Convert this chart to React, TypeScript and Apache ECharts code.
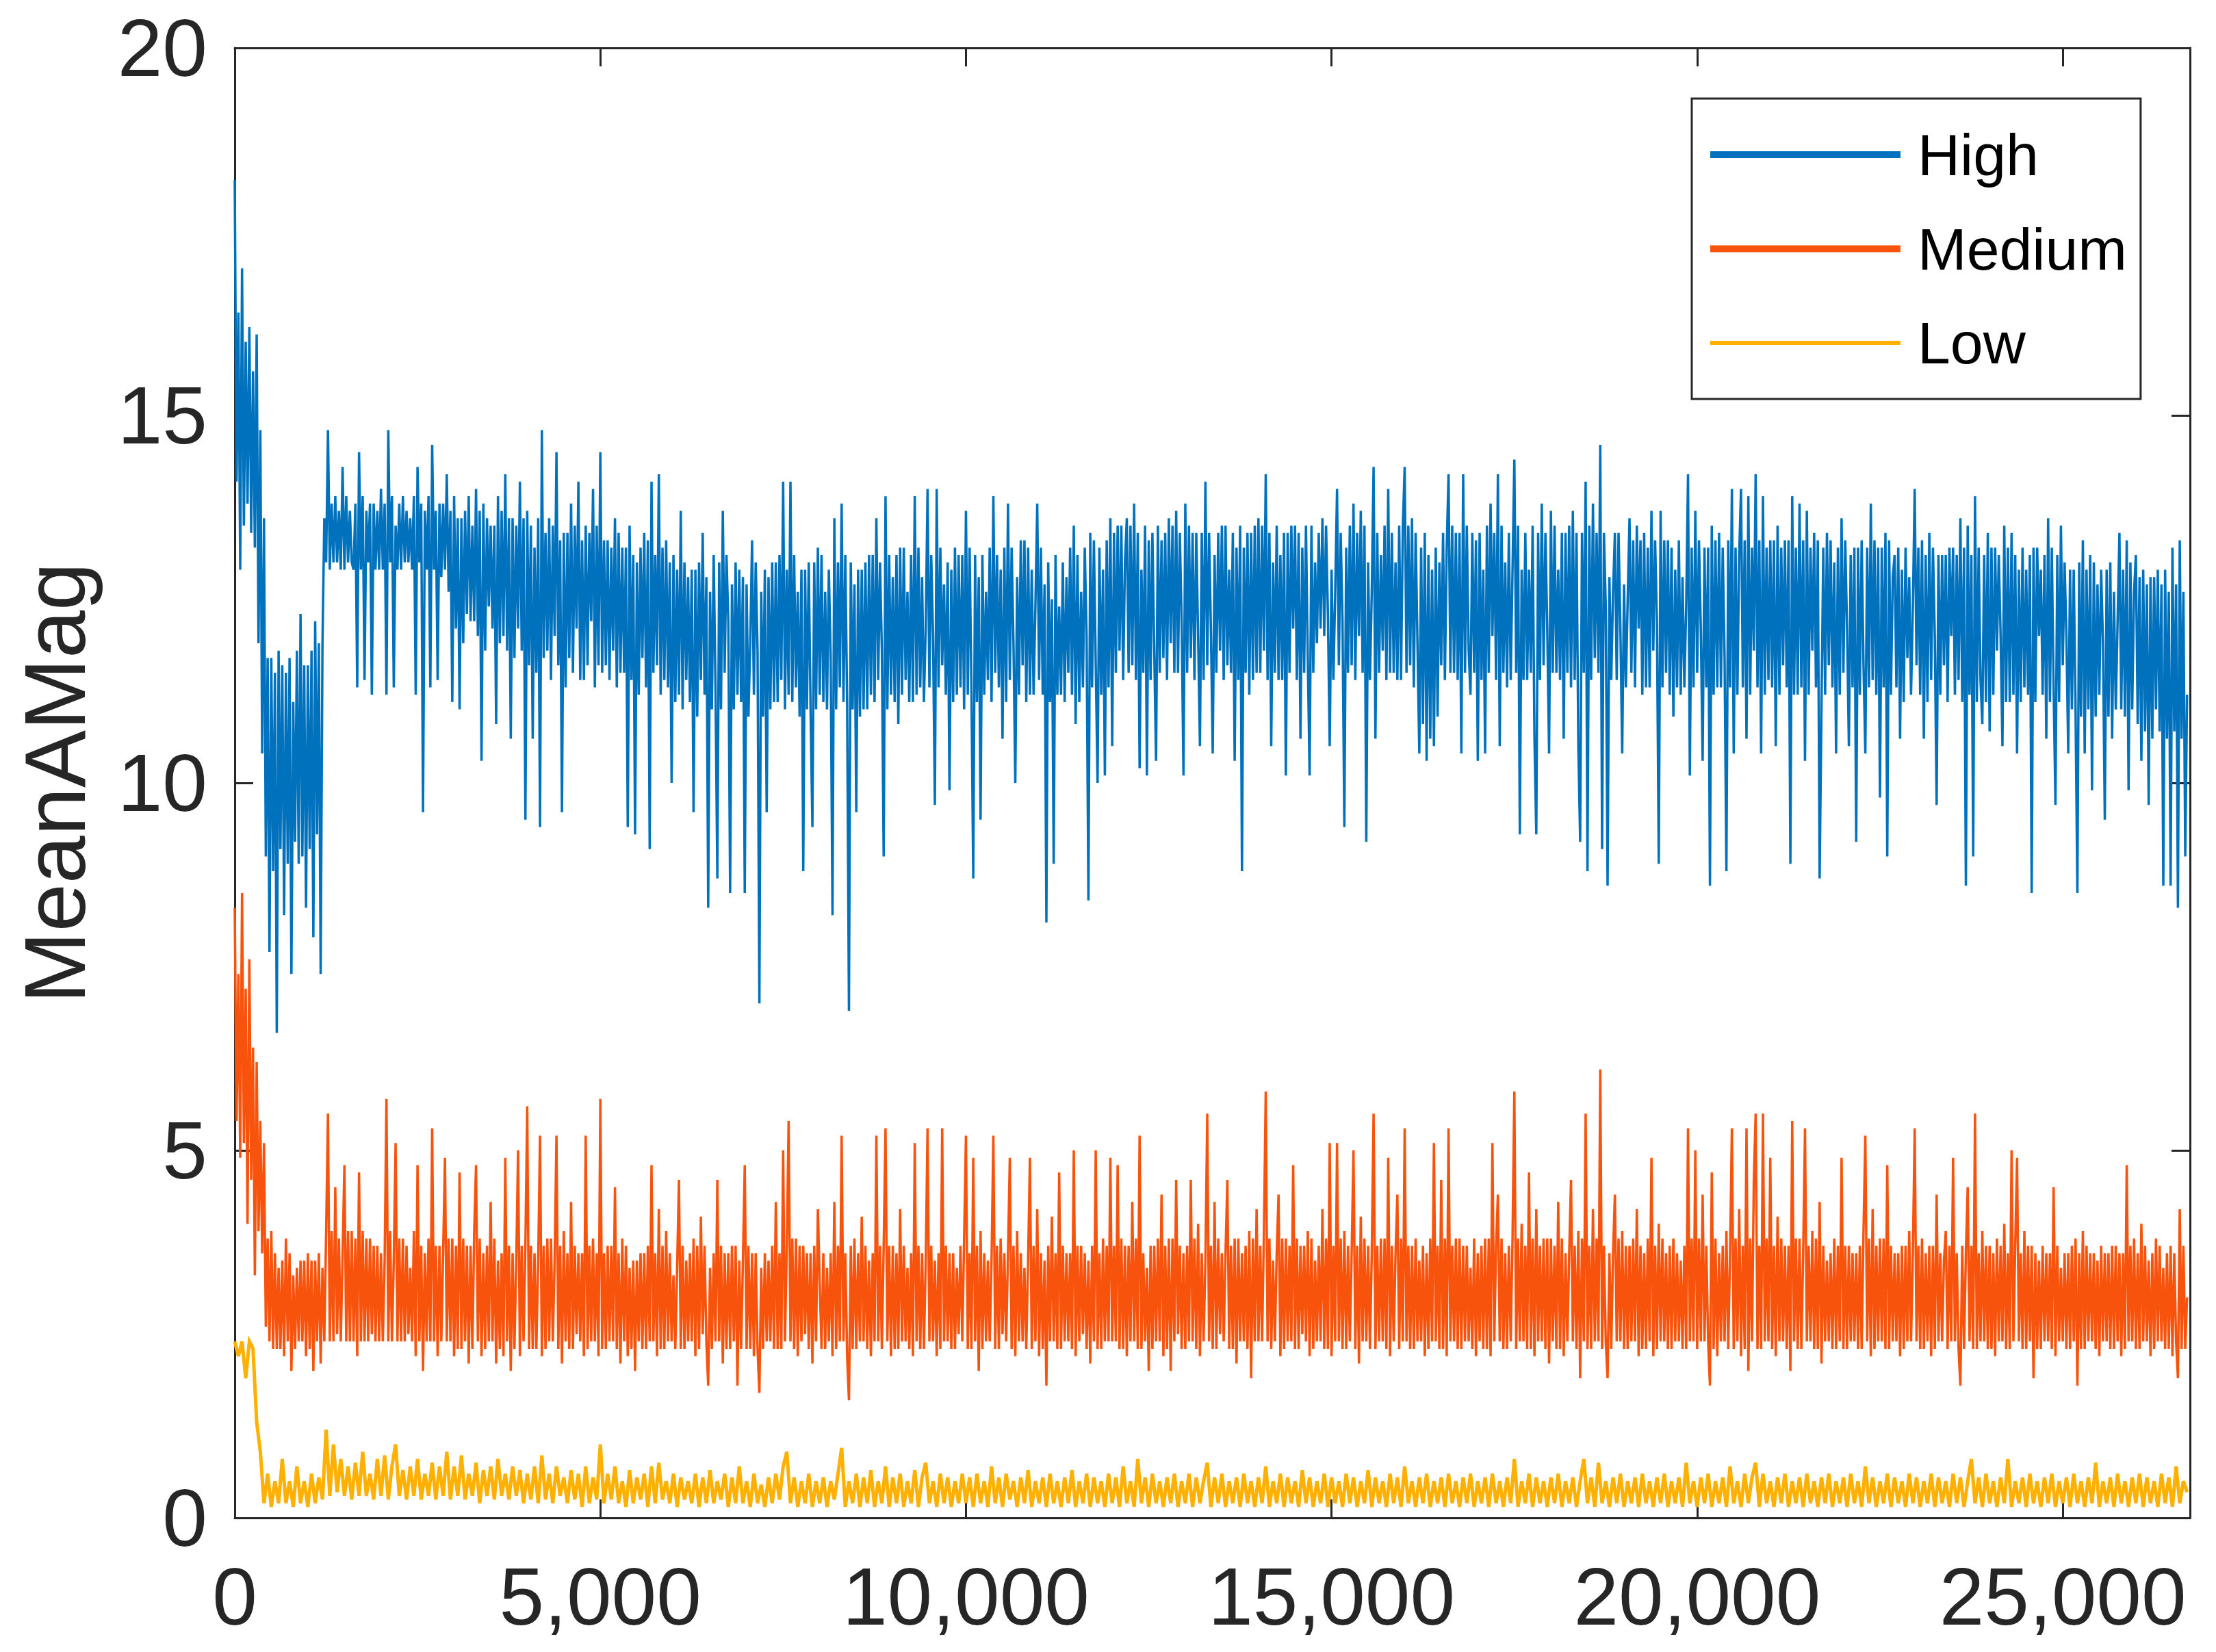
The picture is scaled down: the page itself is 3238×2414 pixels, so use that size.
import React, { useEffect, useRef } from "react";
import * as echarts from "echarts";

// ---- data ----
const STEP_HM = 25; // sample spacing along x of HIGH and MEDIUM values
const STEP_LOW = 50; // sample spacing along x of LOW values
const X_MIN = 0;
const X_MAX = 26740;
const X_TICK = 5000;
const Y_MIN = 0;
const Y_MAX = 20;
const Y_TICK = 5;
const Y_NAME = "MeanAMag";
const SERIES_NAMES = ["High", "Medium", "Low"];
const COLORS = ["#0072BD", "#F8530D", "#FFB000"];

const HIGH = [
  18.2,14.1,16.4,12.9, 17.0,13.5,16.0,13.8, 16.2,13.4,15.6,13.2, 16.1,11.9,14.8,10.4, 13.6,9.0,11.7,7.7, 11.7,8.8,11.5,6.6, 11.8,9.1,11.6,8.2, 11.5,8.9,11.7,7.4, 11.1,9.2,11.8,8.9, 12.3,9.0,11.6,8.3,
  11.6,9.1,11.8,7.9, 12.2,9.3,11.9,7.4, 11.9,13.6,13.0,14.8, 12.9,13.8,13.0,13.9, 13.0,13.7,12.9,14.3, 12.9,13.9,13.0,13.7, 13.0,12.9,13.8,11.3, 14.5,12.9,13.9,11.4, 13.7,13.0,13.8,11.2, 13.8,12.9,13.7,12.9,
  14.0,12.9,13.8,11.2, 14.8,13.0,13.9,11.3, 13.5,12.9,13.8,12.9, 13.9,13.0,13.7,13.0, 13.6,12.9,13.9,11.2, 14.3,13.0,13.8,9.6, 13.7,12.9,13.9,11.3, 14.6,12.9,13.7,11.4, 13.8,12.8,13.8,12.9, 14.2,12.6,13.7,11.1,
  13.9,12.1,13.6,11.0, 13.6,11.9,13.7,12.3, 13.9,12.2,13.5,12.2, 14.0,12.0,13.7,10.3, 13.8,11.8,13.6,12.4, 13.5,12.1,13.5,10.8, 13.9,11.9,13.7,12.0, 14.2,11.8,13.6,10.6, 13.6,11.7,13.5,12.1, 14.1,11.8,13.6,9.5,
  13.7,11.6,13.5,10.6, 13.2,11.5,13.6,9.4, 14.8,11.7,13.4,11.8, 13.6,11.4,13.5,12.0, 14.5,11.6,13.3,9.6, 13.4,11.3,13.4,11.7, 13.8,11.5,13.5,12.1, 14.1,11.4,13.3,11.4, 13.5,11.6,13.4,12.2, 14.0,11.3,13.5,11.6,
  14.5,11.5,13.3,11.6, 13.3,11.4,13.2,11.8, 13.6,11.3,13.4,11.5, 13.2,11.5,13.2,9.4, 13.5,11.4,13.1,9.3, 13.0,11.2,13.2,11.7, 13.4,11.3,13.3,9.1, 14.1,11.5,13.1,11.6, 14.2,11.2,13.2,11.4, 13.3,11.3,13.0,10.0,
  13.1,11.1,12.9,11.2, 13.7,11.0,13.0,11.4, 12.8,11.1,12.9,9.6, 12.9,10.9,13.0,11.4, 13.4,11.2,12.8,8.3, 12.6,11.0,13.1,11.3, 8.7,13.0,11.0,13.7, 11.5,13.1,12.2,8.5, 12.7,11.0,13.0,11.2, 12.9,11.1,12.8,8.5,
  12.7,10.9,11.9,13.3, 11.2,13.0,11.8,7.0, 12.6,10.9,12.9,9.6, 12.8,11.0,13.0,11.1, 13.0,11.1,13.1,11.4, 14.1,11.0,12.9,11.2, 14.1,11.1,13.1,11.3, 12.6,10.9,12.9,8.8, 12.9,11.0,13.0,11.0, 9.4,13.0,11.0,13.2,
  11.2,13.1,11.1,12.6, 11.0,12.9,11.7,8.2, 13.6,11.0,13.0,11.3, 13.8,11.1,13.1,11.1, 6.9,13.0,11.0,12.7, 9.6,12.9,10.9,12.9, 11.0,13.0,11.0,13.1, 11.2,13.1,11.1,13.6, 11.4,13.0,11.8,9.0, 13.9,11.0,13.1,11.2,
  12.8,11.1,13.1,10.8, 13.2,11.2,13.2,11.4, 12.6,11.1,13.1,11.1, 13.9,11.2,13.2,11.3, 12.8,11.1,12.1,14.0, 11.3,13.1,12.0,9.7, 14.0,11.3,13.2,11.6, 12.7,11.2,13.0,9.9, 12.9,11.1,13.2,11.2, 13.1,11.3,13.1,11.0,
  13.7,11.2,13.2,11.3, 8.7,13.1,11.1,12.8, 9.5,13.1,11.2,12.6, 11.4,13.2,11.1,13.9, 11.5,13.1,11.3,12.9, 10.6,13.2,11.1,13.8, 11.4,13.2,11.9,10.0, 12.8,11.2,13.3,11.6, 13.3,11.1,13.2,11.2, 12.9,11.2,12.4,13.8,
  11.4,13.2,11.2,12.7, 8.1,13.0,11.1,12.5, 8.9,13.1,11.2,12.4, 11.2,13.0,11.1,12.8, 11.5,13.2,11.2,13.5, 10.8,13.1,11.1,12.6, 11.3,13.2,12.0,8.4, 13.4,11.3,13.3,11.6, 10.0,13.2,11.2,12.9, 10.1,13.3,11.3,13.6,
  10.5,13.4,11.5,13.5, 11.8,13.5,11.4,13.0, 13.6,11.5,13.5,11.6, 13.8,11.4,13.4,10.2, 12.9,11.5,13.5,10.1, 13.3,11.4,13.4,11.8, 10.3,13.5,11.5,13.3, 11.7,13.4,11.4,13.6, 11.9,13.5,11.5,13.7, 11.5,13.4,12.2,10.1,
  13.8,11.5,13.5,11.7, 13.4,11.4,13.4,12.0, 10.5,13.4,11.4,14.1, 11.6,13.4,12.1,10.4, 13.1,11.5,13.4,11.8, 13.5,11.4,13.5,11.6, 12.9,11.5,13.4,10.3, 13.2,11.4,13.5,8.8, 13.2,11.5,13.4,11.2, 13.4,11.4,13.5,11.5,
  13.6,11.5,13.5,11.8, 14.2,11.4,13.4,10.5, 13.0,11.5,13.5,11.4, 13.1,11.4,13.4,10.1, 13.4,11.5,13.5,12.1, 13.5,11.4,13.4,10.6, 13.2,11.5,13.5,11.7, 10.1,13.5,11.5,13.0, 11.9,13.4,12.1,13.6, 12.0,13.5,12.3,10.5,
  12.9,11.4,12.6,14.0, 11.6,13.4,12.2,9.4, 13.2,11.5,13.5,11.6, 13.8,11.4,13.4,12.0, 13.7,11.5,13.5,9.2, 13.0,11.4,12.6,14.3, 10.6,13.4,11.5,13.1, 11.8,13.5,11.4,14.0, 11.5,13.4,11.5,13.0, 11.4,13.5,11.4,13.5,
  14.3,11.5,13.5,11.6, 13.6,11.3,13.4,11.9, 10.4,13.2,10.8,13.4, 10.3,13.1,10.6,12.9, 10.5,13.2,10.9,13.0, 11.6,13.4,11.4,13.2, 14.2,11.5,13.5,11.5, 13.4,11.4,13.4,10.4, 14.2,11.5,13.5,11.8, 11.2,13.4,11.5,13.3,
  10.3,13.4,11.4,12.9, 10.4,13.5,11.5,13.8, 12.0,13.4,11.4,14.2, 10.5,13.5,11.5,13.0, 11.3,13.4,11.4,12.9, 14.4,11.5,13.5,9.3, 12.9,11.4,13.4,11.4, 12.9,11.5,13.5,10.6, 9.3,13.4,11.4,13.8, 11.6,13.4,12.1,10.4,
  13.7,11.5,13.5,11.5, 12.9,11.4,13.4,10.6, 13.4,11.5,13.5,11.3, 13.7,11.4,13.4,10.5, 9.2,13.4,11.5,14.1, 8.8,13.5,11.4,13.8, 11.7,13.4,11.5,14.6, 9.1,13.4,12.4,8.6, 12.8,11.4,12.6,13.4, 11.4,13.4,12.1,10.4,
  12.7,11.3,12.5,13.6, 11.5,13.3,11.3,13.5, 12.1,13.3,11.2,13.4, 11.3,13.2,11.3,13.7, 11.8,13.3,12.2,8.9, 13.7,11.3,13.3,11.5, 13.3,11.2,13.2,10.9, 12.9,11.3,13.3,11.2, 12.8,11.3,12.4,14.2, 10.1,13.2,11.3,13.7,
  11.5,13.3,12.1,10.3, 13.2,11.3,13.2,8.6, 13.5,11.2,13.3,11.3, 13.4,11.3,13.2,11.7, 8.8,13.3,11.3,14.0, 10.4,13.2,11.2,13.1, 14.0,11.3,13.3,10.6, 13.9,11.2,13.2,11.8, 14.2,11.3,13.3,10.4, 13.9,11.2,13.2,11.4,
  13.3,11.3,13.3,10.5, 13.5,11.2,13.2,11.6, 13.3,11.3,13.3,8.9, 13.9,11.2,13.2,11.2, 13.8,11.3,13.3,10.3, 13.7,11.2,13.2,11.8, 13.4,11.3,13.3,8.7, 11.0,13.2,11.2,13.4, 11.6,13.3,11.3,13.0, 10.4,13.2,11.2,13.6,
  11.5,13.3,12.1,10.5, 13.1,11.3,13.2,9.2, 13.2,11.2,13.3,11.6, 10.4,13.2,11.3,13.8, 11.4,13.3,11.2,13.2, 9.8,13.2,11.3,13.4, 9.0,13.3,11.2,12.8, 13.1,11.3,13.2,10.6, 12.9,11.1,13.2,11.7, 12.8,11.2,12.4,14.0,
  11.6,13.2,11.2,13.3, 10.6,13.1,11.1,13.4, 11.4,13.2,12.0,9.7, 13.1,11.2,13.1,11.6, 13.1,11.1,13.2,12.0, 13.2,11.2,13.1,11.4, 13.6,11.1,13.2,8.6, 13.5,11.2,13.1,9.0, 13.9,11.1,13.2,11.4, 10.8,13.1,11.1,13.4,
  10.7,13.2,11.2,13.2, 11.8,13.1,12.0,10.5, 13.5,11.1,13.2,11.1, 13.4,11.2,13.1,10.4, 12.9,11.1,13.2,11.3, 12.9,11.2,13.1,8.5, 13.2,11.1,13.2,12.0, 12.9,11.2,13.1,10.6, 13.6,11.1,13.2,11.3, 9.7,13.1,11.1,13.5,
  11.6,13.0,12.0,10.4, 12.9,11.0,12.9,11.0, 8.5,13.0,10.9,13.3, 10.4,12.9,11.0,13.1, 9.9,13.0,10.9,12.7, 11.2,12.9,11.9,9.5, 12.9,10.9,13.0,10.6, 12.6,11.0,12.2,13.4, 11.0,12.9,10.9,13.3, 9.9,13.0,11.0,12.6,
  13.1,10.8,12.8,10.3, 12.9,10.7,12.7,9.7, 12.8,10.6,12.8,11.0, 12.9,10.7,12.7,8.6, 12.9,10.6,12.6,8.6, 13.2,10.7,12.7,8.3, 13.3,10.6,12.6,9.0, 11.2,
];

const MEDIUM = [
  8.3,5.4,7.4,4.9, 8.5,5.1,7.2,4.0, 7.6,4.6,6.4,3.3, 6.2,3.9,5.4,3.6, 5.1,2.6,3.8,2.4, 3.9,2.3,3.6,2.3, 3.4,2.3,3.5,2.2, 3.8,2.4,3.6,2.0, 3.3,2.3,3.4,2.4, 3.5,2.4,3.5,2.2,
  3.6,2.3,3.5,2.0, 3.5,2.4,3.6,2.1, 3.4,2.4,3.9,5.5, 2.4,3.9,2.4,4.5, 2.5,3.8,2.4,3.6, 4.8,2.4,3.9,2.4, 3.9,2.4,3.8,2.2, 4.7,2.4,3.9,2.4, 3.8,2.4,3.8,2.5, 3.7,2.4,3.7,2.4,
  3.6,2.4,3.5,5.7, 2.4,3.9,2.4,3.5, 5.1,2.4,3.8,2.4, 3.8,2.4,3.7,2.5, 3.4,2.4,3.9,2.2, 4.8,2.4,3.7,2.0, 3.6,2.4,3.8,2.4, 5.3,2.4,3.7,2.2, 3.7,2.4,3.6,4.9, 2.4,3.8,2.4,3.8,
  2.2,3.7,2.3,4.7, 2.3,3.8,2.4,3.7, 2.1,3.7,2.3,3.9, 4.8,2.4,3.8,2.2, 3.6,2.3,3.7,2.4, 4.3,2.4,3.8,2.1, 3.5,2.3,3.6,2.2, 4.9,2.4,3.7,2.0, 3.6,2.3,3.5,5.0, 2.2,3.7,2.4,3.7,
  5.6,2.3,3.7,2.3, 3.6,2.3,3.5,5.2, 2.2,3.7,2.3,3.8, 2.4,3.8,2.4,3.5, 5.2,2.3,3.7,2.1, 3.9,2.4,3.6,2.3, 4.3,2.3,3.7,2.5, 3.6,2.4,3.6,2.2, 5.2,2.3,3.7,2.4, 3.8,2.4,3.6,2.2,
  5.7,2.3,3.6,2.3, 3.7,2.4,3.7,2.4, 4.5,2.3,3.6,2.1, 3.8,2.4,3.7,2.2, 3.4,2.3,3.5,2.0, 3.5,2.4,3.6,2.3, 3.6,2.3,3.7,2.4, 4.8,2.4,3.6,2.2, 4.2,2.3,3.7,2.3, 3.9,2.4,3.6,2.4,
  3.3,2.3,3.4,4.6, 2.3,3.7,2.3,3.5, 2.4,3.6,2.4,3.8, 2.2,3.7,2.3,4.1, 2.5,3.7,2.4,1.8, 3.4,2.3,3.6,2.4, 4.6,2.4,3.7,2.1, 3.6,2.3,3.6,2.3, 3.7,2.4,3.7,1.8, 3.5,2.3,3.5,4.8,
  2.3,3.7,2.3,3.6, 2.2,3.6,2.3,1.7, 3.4,2.3,3.6,2.4, 3.5,2.4,3.7,2.3, 4.3,2.3,3.6,2.3, 5.0,2.4,3.7,5.4, 2.4,3.8,2.3,3.8, 2.2,3.7,2.4,3.7, 2.5,3.6,2.3,3.6, 2.1,3.7,2.4,4.2,
  3.2,2.3,3.6,2.3, 3.4,2.4,3.6,2.2, 4.3,2.3,3.7,2.4, 5.2,2.4,3.6,2.2, 1.6,3.7,2.3,3.8, 2.3,3.6,2.4,4.1, 2.4,3.7,2.3,3.5, 2.2,3.6,2.4,5.2, 2.4,3.7,2.3,3.7, 5.3,2.4,3.7,2.2,
  3.7,2.3,3.6,2.3, 4.2,2.4,3.7,2.4, 3.4,2.3,3.6,2.2, 5.1,2.4,3.7,2.3, 3.6,2.3,3.5,5.3, 2.4,3.7,2.4,3.5, 2.2,3.6,2.3,5.3, 2.4,3.7,2.4,3.6, 2.3,3.6,2.3,3.4, 2.5,3.7,2.4,3.8,
  5.2,2.3,3.6,2.3, 4.9,2.4,3.7,2.0, 3.9,2.3,3.6,2.4, 3.5,2.4,3.5,5.2, 2.3,3.7,2.3,3.8, 2.5,3.6,2.4,3.6, 4.9,2.3,3.7,2.2, 3.9,2.4,3.6,2.4, 3.4,2.3,3.5,4.9, 2.3,3.7,2.4,4.2,
  2.2,3.6,2.3,3.5, 1.8,3.7,2.4,4.1, 2.4,3.6,2.3,4.7, 2.3,3.7,2.4,3.6, 2.4,3.6,2.3,5.0, 2.2,3.7,2.4,3.7, 2.5,3.6,2.3,3.5, 2.1,3.7,2.4,5.0, 2.3,3.6,2.3,3.8, 2.4,3.7,2.4,4.9,
  2.4,3.7,2.4,4.8, 2.3,3.8,2.3,3.7, 2.2,3.7,2.4,4.3, 2.4,3.8,2.3,5.2, 2.3,3.6,2.4,3.4, 2.0,3.7,2.3,3.7, 2.4,3.8,2.4,4.4, 2.2,3.7,2.3,3.8, 2.0,3.8,2.4,4.6, 2.5,3.7,2.3,3.6,
  2.3,3.7,2.4,4.6, 2.4,3.8,2.3,4.0, 2.2,3.6,2.4,3.5, 5.5,2.4,3.7,2.3, 4.3,2.3,3.8,2.5, 3.6,2.4,3.6,4.6, 2.3,3.7,2.3,3.8, 2.1,3.8,2.4,3.6, 2.4,3.7,2.3,3.9, 1.9,3.8,2.4,4.2,
  2.4,3.7,2.4,3.9, 5.8,2.4,3.8,2.3, 3.5,2.4,3.6,4.4, 2.2,3.8,2.3,3.8, 2.4,3.7,2.4,4.8, 2.3,3.8,2.3,3.7, 2.5,3.7,2.4,3.9, 2.2,3.8,2.3,3.5, 2.4,3.7,2.4,4.2, 2.3,3.8,2.3,5.1,
  2.2,3.7,2.4,5.1, 2.4,3.8,2.3,3.9, 2.3,3.7,2.4,3.6, 5.0,2.3,3.7,2.1, 4.1,2.4,3.8,2.4, 3.7,2.3,3.6,5.5, 2.3,3.7,2.4,3.8, 2.4,3.8,2.3,4.9, 2.2,3.7,2.4,3.6, 4.4,2.3,3.8,2.4,
  5.3,2.4,3.7,2.3, 3.7,2.3,3.8,2.4, 3.5,2.4,3.7,2.2, 3.6,2.3,3.8,2.4, 5.1,2.4,3.7,2.3, 4.6,2.3,3.8,2.2, 5.3,2.4,3.7,2.4, 3.8,2.3,3.8,2.3, 3.7,2.4,3.7,2.4, 3.4,2.3,3.8,2.2,
  3.6,2.4,3.7,2.3, 3.8,2.3,3.8,2.2, 5.1,2.4,3.7,4.4, 2.4,3.8,2.3,3.6, 2.3,3.7,2.4,3.8, 5.8,2.3,3.8,2.4, 4.0,2.4,3.7,2.3, 4.7,2.3,3.8,2.2, 4.2,2.4,3.7,2.4, 3.8,2.3,3.8,2.1,
  3.8,2.4,3.7,2.3, 4.3,2.3,3.8,2.2, 3.6,2.4,3.6,4.6, 2.4,3.7,2.3,3.9, 1.9,3.8,2.4,5.5, 2.3,3.7,2.3,4.2, 2.4,3.8,2.4,6.1, 2.3,3.7,2.4,1.9, 3.6,2.3,3.6,4.4, 2.4,3.8,2.4,3.9,
  2.3,3.7,2.3,3.7, 2.4,3.8,2.4,4.2, 2.2,3.7,2.3,3.6, 2.3,3.8,2.4,4.9, 2.2,3.7,2.3,4.0, 2.4,3.8,2.4,3.6, 2.3,3.7,2.3,3.8, 2.4,3.6,2.4,3.5, 2.3,3.7,2.3,5.3, 2.4,3.8,2.4,5.0,
  2.3,3.8,2.4,4.4, 2.4,3.7,2.4,1.8, 4.7,2.3,3.8,2.2, 3.6,2.4,3.7,2.4, 3.9,2.3,3.6,5.3, 2.3,3.8,2.4,4.2, 2.2,3.7,2.3,5.3, 2.0,3.8,2.4,4.6, 5.5,2.3,3.7,2.3, 5.5,2.4,3.8,2.4,
  4.9,2.3,3.7,2.2, 4.1,2.4,3.8,2.4, 3.7,2.3,3.7,2.0, 5.4,2.4,3.8,2.3, 3.8,2.3,3.6,5.3, 2.4,3.7,2.4,3.9, 2.3,3.8,2.3,4.3, 2.1,3.7,2.4,3.5, 2.4,3.6,2.3,3.8, 2.3,3.7,2.4,4.9,
  2.3,3.7,2.3,3.7, 2.4,3.6,2.4,3.6, 2.3,3.7,2.3,3.9, 5.2,2.4,3.8,2.2, 4.2,2.3,3.7,2.4, 3.8,2.4,3.8,2.3, 4.8,2.3,3.7,2.4, 3.6,2.4,3.6,2.2, 3.7,2.3,3.7,2.4, 3.9,2.4,3.6,5.3,
  2.4,3.7,2.3,3.8, 2.3,3.6,2.4,3.7, 2.2,3.7,2.3,4.4, 2.4,3.6,2.4,3.5, 3.9,2.3,3.7,2.4, 4.9,2.4,3.6,2.3, 1.8,3.7,2.3,3.6, 4.5,2.4,3.7,2.3, 5.5,2.3,3.6,2.4, 3.9,2.4,3.7,2.3,
  3.7,2.3,3.6,2.2, 3.8,2.4,3.7,2.4, 4.0,2.3,3.6,2.3, 5.0,2.4,3.7,4.9, 2.4,3.6,2.3,3.9, 2.3,3.7,2.4,3.7, 1.9,3.6,2.3,3.5, 2.3,3.7,2.4,3.6, 2.4,3.6,2.3,4.5, 2.2,3.7,2.4,3.4,
  2.4,3.6,2.3,3.6, 2.3,3.7,2.4,3.8, 1.8,3.6,2.3,3.9, 2.3,3.7,2.4,3.6, 2.4,3.6,2.3,3.5, 2.2,3.7,2.4,3.6, 2.4,3.6,2.3,3.7, 2.3,3.7,2.4,3.6, 2.2,3.6,2.3,4.8, 2.4,3.7,2.4,3.8,
  2.3,3.6,2.3,4.0, 2.4,3.7,2.4,3.5, 2.2,3.6,2.3,3.8, 2.4,3.7,2.4,3.4, 2.3,3.6,2.3,3.7, 2.2,3.6,2.4,1.9, 4.2,2.3,3.7,2.3, 3.0,
];

const LOW = [
  2.4, 2.2, 2.4, 1.9, 2.4, 2.3, 1.3, 0.9, 0.2, 0.6, 0.15, 0.5, 0.2, 0.8, 0.2, 0.5, 0.15, 0.7, 0.2, 0.5,
  0.15, 0.6, 0.2, 0.55, 0.25, 1.2, 0.3, 1.0, 0.35, 0.8, 0.3, 0.7, 0.25, 0.75, 0.3, 0.9, 0.3, 0.6, 0.25, 0.8,
  0.3, 0.85, 0.25, 0.7, 1.0, 0.3, 0.65, 0.25, 0.7, 0.3, 0.8, 0.25, 0.6, 0.3, 0.75, 0.25, 0.7, 0.3, 0.9, 0.25,
  0.7, 0.3, 0.85, 0.25, 0.6, 0.3, 0.75, 0.2, 0.65, 0.3, 0.7, 0.25, 0.8, 0.3, 0.6, 0.25, 0.7, 0.3, 0.65, 0.2,
  0.6, 0.25, 0.7, 0.2, 0.85, 0.25, 0.6, 0.2, 0.7, 0.3, 0.55, 0.2, 0.65, 0.25, 0.6, 0.15, 0.7, 0.2, 0.55, 0.25,
  1.0, 0.2, 0.6, 0.25, 0.7, 0.2, 0.5, 0.15, 0.65, 0.2, 0.55, 0.25, 0.6, 0.15, 0.7, 0.2, 0.75, 0.25, 0.5, 0.2,
  0.6, 0.15, 0.55, 0.25, 0.5, 0.2, 0.6, 0.15, 0.55, 0.2, 0.65, 0.2, 0.5, 0.25, 0.6, 0.15, 0.55, 0.2, 0.7, 0.2,
  0.5, 0.15, 0.6, 0.2, 0.45, 0.15, 0.55, 0.2, 0.6, 0.25, 0.7, 0.9, 0.2, 0.55, 0.15, 0.5, 0.2, 0.6, 0.15, 0.5,
  0.2, 0.55, 0.15, 0.5, 0.25, 0.6, 0.95, 0.15, 0.5, 0.2, 0.6, 0.15, 0.55, 0.2, 0.65, 0.15, 0.5, 0.2, 0.7, 0.15,
  0.55, 0.2, 0.6, 0.15, 0.5, 0.2, 0.65, 0.15, 0.55, 0.75, 0.2, 0.5, 0.15, 0.6, 0.2, 0.55, 0.15, 0.5, 0.2, 0.6,
  0.2, 0.55, 0.15, 0.6, 0.2, 0.5, 0.15, 0.7, 0.2, 0.55, 0.15, 0.6, 0.25, 0.5, 0.15, 0.55, 0.2, 0.65, 0.15, 0.5,
  0.2, 0.55, 0.15, 0.6, 0.2, 0.5, 0.15, 0.55, 0.2, 0.65, 0.15, 0.5, 0.2, 0.6, 0.15, 0.55, 0.2, 0.5, 0.15, 0.6,
  0.2, 0.55, 0.15, 0.7, 0.2, 0.5, 0.15, 0.8, 0.2, 0.55, 0.15, 0.6, 0.2, 0.5, 0.15, 0.55, 0.2, 0.6, 0.15, 0.5,
  0.2, 0.6, 0.15, 0.55, 0.2, 0.5, 0.75, 0.15, 0.55, 0.2, 0.6, 0.15, 0.5, 0.2, 0.55, 0.15, 0.6, 0.2, 0.5, 0.15,
  0.55, 0.2, 0.7, 0.15, 0.5, 0.2, 0.6, 0.15, 0.55, 0.2, 0.5, 0.15, 0.65, 0.2, 0.55, 0.15, 0.5, 0.2, 0.6, 0.15,
  0.55, 0.2, 0.5, 0.15, 0.6, 0.2, 0.55, 0.15, 0.5, 0.2, 0.65, 0.15, 0.55, 0.2, 0.5, 0.15, 0.6, 0.2, 0.55, 0.15,
  0.7, 0.2, 0.5, 0.15, 0.55, 0.2, 0.6, 0.15, 0.5, 0.2, 0.55, 0.15, 0.6, 0.2, 0.5, 0.15, 0.55, 0.2, 0.6, 0.15,
  0.5, 0.2, 0.55, 0.15, 0.6, 0.2, 0.5, 0.15, 0.55, 0.2, 0.8, 0.15, 0.5, 0.2, 0.6, 0.15, 0.55, 0.2, 0.5, 0.15,
  0.55, 0.2, 0.6, 0.15, 0.5, 0.2, 0.55, 0.15, 0.5, 0.8, 0.2, 0.55, 0.15, 0.75, 0.2, 0.5, 0.15, 0.55, 0.2, 0.6,
  0.15, 0.5, 0.2, 0.55, 0.15, 0.6, 0.2, 0.5, 0.15, 0.55, 0.2, 0.6, 0.15, 0.5, 0.2, 0.55, 0.15, 0.75, 0.2, 0.5,
  0.15, 0.55, 0.2, 0.6, 0.15, 0.5, 0.2, 0.55, 0.15, 0.7, 0.2, 0.5, 0.15, 0.6, 0.2, 0.55, 0.75, 0.15, 0.6, 0.2,
  0.5, 0.15, 0.55, 0.2, 0.6, 0.15, 0.5, 0.2, 0.55, 0.15, 0.6, 0.2, 0.5, 0.15, 0.55, 0.2, 0.6, 0.15, 0.5, 0.2,
  0.55, 0.15, 0.6, 0.2, 0.5, 0.15, 0.7, 0.2, 0.55, 0.15, 0.5, 0.2, 0.6, 0.15, 0.55, 0.2, 0.5, 0.15, 0.6, 0.2,
  0.55, 0.15, 0.5, 0.2, 0.6, 0.15, 0.55, 0.2, 0.5, 0.15, 0.6, 0.2, 0.55, 0.15, 0.5, 0.8, 0.2, 0.55, 0.15, 0.6,
  0.2, 0.5, 0.15, 0.55, 0.2, 0.8, 0.15, 0.5, 0.2, 0.55, 0.15, 0.6, 0.2, 0.5, 0.15, 0.55, 0.2, 0.6, 0.15, 0.5,
  0.2, 0.55, 0.15, 0.6, 0.2, 0.5, 0.15, 0.55, 0.2, 0.75, 0.15, 0.5, 0.2, 0.55, 0.15, 0.6, 0.2, 0.5, 0.15, 0.55,
  0.2, 0.6, 0.15, 0.55, 0.2, 0.5, 0.15, 0.6, 0.2, 0.55, 0.15, 0.7, 0.2, 0.5, 0.35,
];

const SERIES_VALUES = [HIGH, MEDIUM, LOW];
const SERIES_STEPS = [STEP_HM, STEP_HM, STEP_LOW];
const LINE_WIDTHS = [3.5, 3.5, 5];

const FONT = '"Liberation Sans", Arial, Helvetica, sans-serif';
const AXIS_COLOR = "#262626";

function toPoints(values: number[], step: number): number[][] {
  return values.map((v, i) => [i * step, v]);
}

function fmtThousands(v: number): string {
  return v % X_TICK === 0 ? v.toLocaleString("en-US") : "";
}

export default function App() {
  const ref = useRef<HTMLDivElement>(null);

  useEffect(() => {
    document.body.style.margin = "0";
    const el = ref.current;
    if (!el) return;
    const chart = echarts.init(el, null, { renderer: "svg" });

    const axisLine = { show: true, onZero: false, lineStyle: { color: AXIS_COLOR, width: 3 } };
    const axisTick = { show: true, inside: true, length: 27, lineStyle: { color: AXIS_COLOR, width: 3 } };

    const option: any = {
      animation: false,
      backgroundColor: "#ffffff",
      grid: { left: 343, right: 38, top: 70, bottom: 196, containLabel: false },
      xAxis: [
        {
          type: "value",
          position: "bottom",
          min: X_MIN,
          max: X_MAX,
          interval: X_TICK,
          axisLine,
          axisTick,
          splitLine: { show: false },
          axisLabel: {
            show: true,
            fontSize: 118,
            fontFamily: FONT,
            color: AXIS_COLOR,
            margin: 56,
            showMaxLabel: false,
            formatter: (v: number) => fmtThousands(v),
          },
        },
        {
          type: "value",
          position: "top",
          min: X_MIN,
          max: X_MAX,
          interval: X_TICK,
          axisLine,
          axisTick,
          splitLine: { show: false },
          axisLabel: { show: false },
        },
      ],
      yAxis: [
        {
          type: "value",
          position: "left",
          min: Y_MIN,
          max: Y_MAX,
          interval: Y_TICK,
          axisLine,
          axisTick,
          splitLine: { show: false },
          axisLabel: { show: true, fontSize: 118, fontFamily: FONT, color: AXIS_COLOR, margin: 40 },
          name: Y_NAME,
          nameLocation: "middle",
          nameGap: 200,
          nameRotate: 90,
          nameTextStyle: { fontSize: 126, fontFamily: FONT, color: AXIS_COLOR },
        },
        {
          type: "value",
          position: "right",
          min: Y_MIN,
          max: Y_MAX,
          interval: Y_TICK,
          axisLine,
          axisTick,
          splitLine: { show: false },
          axisLabel: { show: false },
        },
      ],
      legend: {
        orient: "vertical",
        left: 2472,
        top: 144,
        padding: [32, 20, 32, 27],
        itemGap: 37.5,
        itemWidth: 278,
        itemHeight: 10,
        backgroundColor: "#ffffff",
        borderColor: AXIS_COLOR,
        borderWidth: 3,
        selectedMode: false,
        itemStyle: { borderWidth: 0 },
        textStyle: {
          fontSize: 86,
          fontFamily: FONT,
          color: "#000000",
          lineHeight: 100,
          padding: [0, 0, 0, 20],
        },
        data: [
          { name: SERIES_NAMES[0], icon: "rect" },
          { name: SERIES_NAMES[1], icon: "rect" },
          { name: SERIES_NAMES[2], icon: "path://M0,0H278V6H0Z" },
        ],
      },
      series: SERIES_NAMES.map((name, k) => ({
        name,
        type: "line",
        xAxisIndex: 0,
        yAxisIndex: 0,
        data: toPoints(SERIES_VALUES[k], SERIES_STEPS[k]),
        showSymbol: false,
        symbol: "none",
        silent: true,
        clip: true,
        color: COLORS[k],
        itemStyle: { color: COLORS[k] },
        lineStyle: { color: COLORS[k], width: LINE_WIDTHS[k], join: "miter", cap: "butt" },
        emphasis: { disabled: true },
      })),
    };

    chart.setOption(option);
    return () => {
      chart.dispose();
    };
  }, []);

  return <div ref={ref} style={{ width: 3238, height: 2414 }} />;
}
